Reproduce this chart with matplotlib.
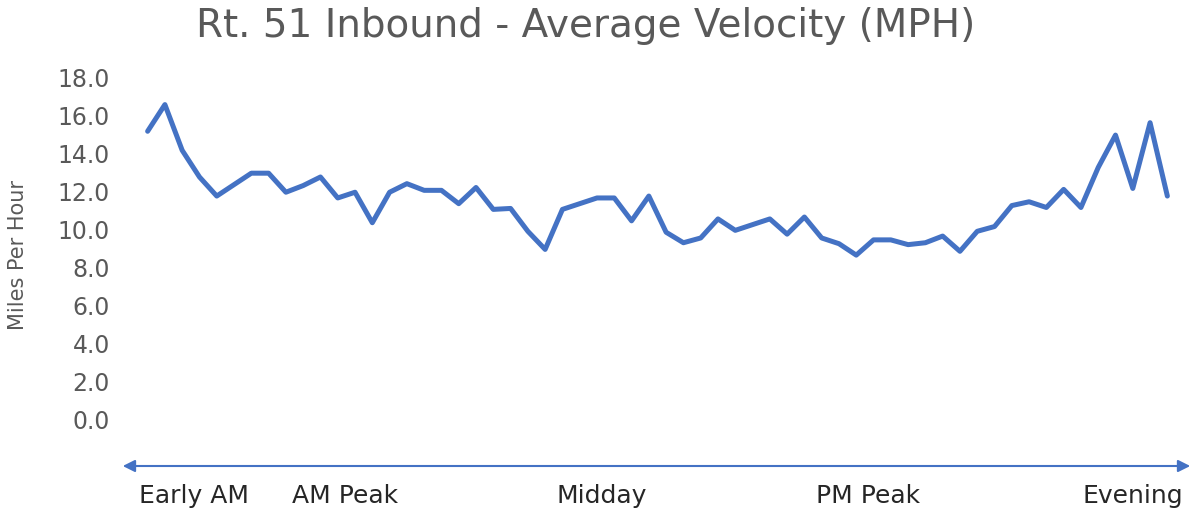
import numpy as np
import matplotlib.pyplot as plt

# ------------------ data ------------------
velocity = [
    15.1, 16.5, 14.1, 12.7, 11.7, 12.3, 12.9, 12.9, 11.9, 12.25,
    12.7, 11.6, 11.9, 10.3, 11.9, 12.35, 12.0, 12.0, 11.3, 12.15,
    11.0, 11.05, 9.85, 8.9, 11.0, 11.3, 11.6, 11.6, 10.4, 11.7,
    9.8, 9.25, 9.5, 10.5, 9.9, 10.2, 10.5, 9.7, 10.6, 9.5,
    9.2, 8.6, 9.4, 9.4, 9.15, 9.25, 9.6, 8.8, 9.85, 10.1,
    11.2, 11.4, 11.1, 12.05, 11.1, 13.2, 14.9, 12.1, 15.55, 11.7,
]
period_labels = ["Early AM", "AM Peak", "Midday", "PM Peak", "Evening"]
period_pos = [2.7, 11.4, 26.3, 41.7, 57.0]
y_ticks = [0, 2, 4, 6, 8, 10, 12, 14, 16, 18]
# ------------------------------------------

BLUE = "#4472C4"
GRAY = "#595959"

fig = plt.figure(figsize=(11.95, 5.10), dpi=100)
ax = fig.add_axes([0.1163, 0.1765, 0.8678, 0.6725])

x = np.arange(len(velocity))
ax.plot(x, velocity, color=BLUE, lw=3.6, solid_joinstyle="round",
        solid_capstyle="round", clip_on=False)

ax.set_xlim(-0.5, len(velocity) - 0.5)
ax.set_ylim(0, 18)
ax.set_yticks(y_ticks)
ax.set_yticklabels([f"{v:.1f}" for v in y_ticks])
ax.set_xticks(period_pos)
ax.set_xticklabels(period_labels)

for s in ax.spines.values():
    s.set_visible(False)

ax.tick_params(axis="y", length=0, pad=21, labelsize=17, labelcolor=GRAY)
ax.tick_params(axis="x", length=0, pad=46, labelsize=18, labelcolor="#262626")

ax.set_ylabel("Miles Per Hour", fontsize=15, color=GRAY,
              family=["Liberation Sans Narrow", "DejaVu Sans"])
ax.yaxis.set_label_coords(-0.107, 0.48)

fig.text(0.490, 1 - 26 / 510, "Rt. 51 Inbound - Average Velocity (MPH)",
         ha="center", va="center", fontsize=28, color=GRAY)

# timeline arrow under the chart
ay = 1 - 467 / 510
fig.patches.append(plt.matplotlib.patches.FancyArrowPatch(
    (120 / 1195, ay), (1193 / 1195, ay), transform=fig.transFigure,
    arrowstyle="<|-|>", mutation_scale=18, color=BLUE, lw=1.5))

fig.savefig("out.png", dpi=100)
